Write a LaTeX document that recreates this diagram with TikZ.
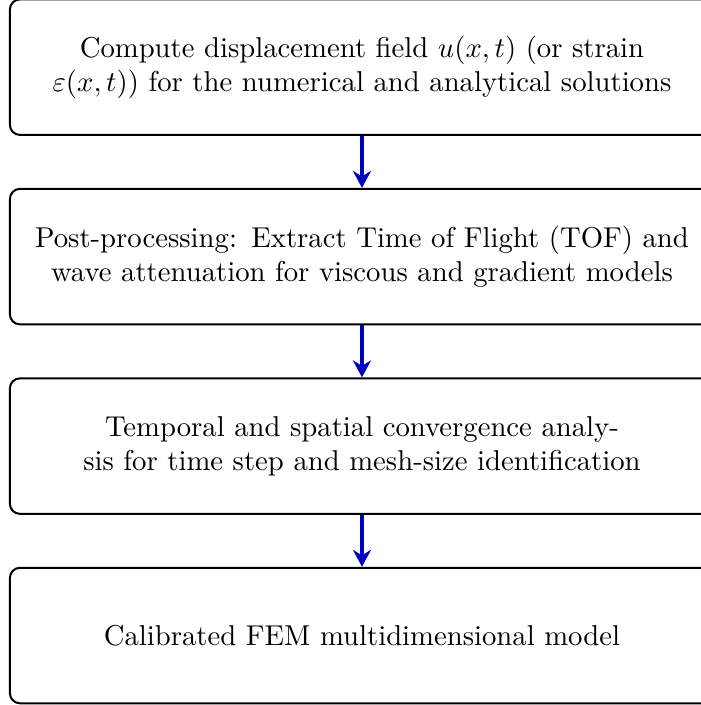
\documentclass[tikz,border=0pt]{standalone}
\usepackage{amsmath,amssymb}
\usetikzlibrary{positioning,arrows.meta}

\begin{document}
\begin{tikzpicture}[
stepbox/.style={draw, line width=0.7pt, rounded corners=3.5pt, fill=white,
  text width=235pt, inner xsep=5.15pt, minimum height=47.2pt, align=center},
flow/.style={-{Stealth[length=5.9pt,width=6.3pt]}, line width=1.7pt, blue!75!black},
node distance=18.1pt,
]
\useasboundingbox (0,0) rectangle (243.9pt,-245.6pt);
\node[stepbox] (compute) at (126.1pt,-23.4pt)
{Compute displacement field $u(x,t)$ (or strain\\ $\varepsilon(x,t)$) for the numerical and analytical solutions};
\node[stepbox, below=of compute] (post)
{Post-processing: Extract Time of Flight (TOF) and\\ wave attenuation for viscous and gradient models};
\node[stepbox, below=of post] (conv)
{Temporal and spatial convergence analy-\\sis for time step and mesh-size identification};
\node[stepbox, below=of conv] (model)
{Calibrated FEM multidimensional model};
\draw[flow] (compute) -- (post);
\draw[flow] (post) -- (conv);
\draw[flow] (conv) -- (model);
\end{tikzpicture}
\end{document}
